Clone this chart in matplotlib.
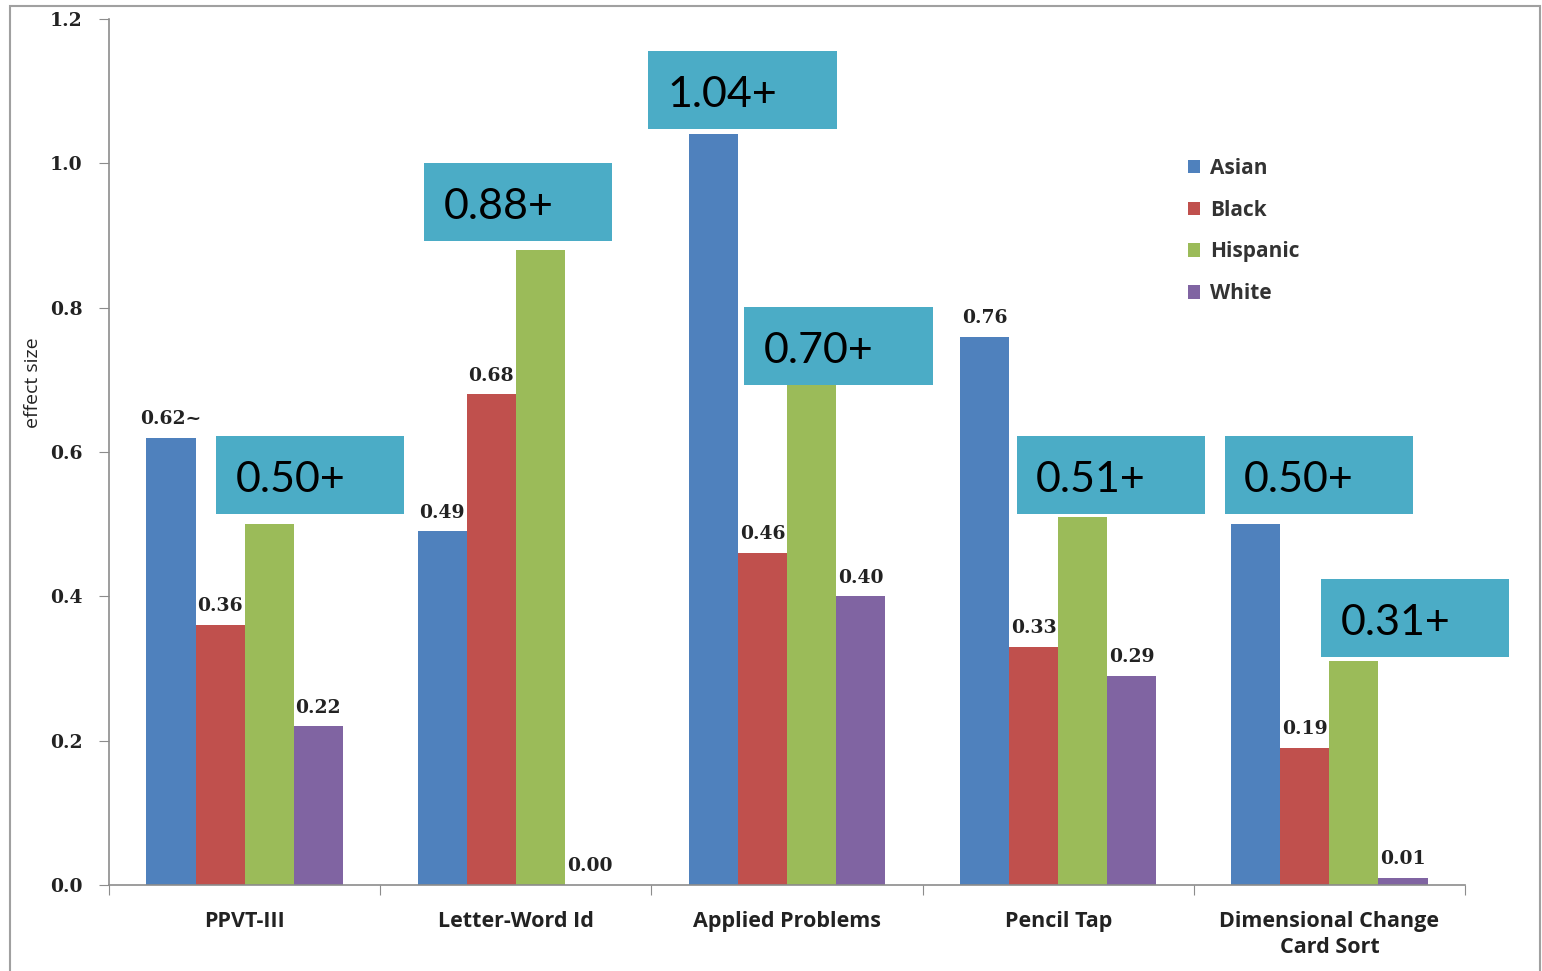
import numpy as np
import matplotlib
matplotlib.use('Agg')
import matplotlib.pyplot as plt
from matplotlib.patches import Rectangle

# data
categories = ['PPVT-III', 'Letter-Word Id', 'Applied Problems', 'Pencil Tap',
              'Dimensional Change\nCard Sort']
groups = ['Asian', 'Black', 'Hispanic', 'White']
asian = [0.62, 0.49, 1.04, 0.76, 0.50]
black = [0.36, 0.68, 0.46, 0.33, 0.19]
hispanic = [0.50, 0.88, 0.70, 0.51, 0.31]
white = [0.22, 0.00, 0.40, 0.29, 0.01]
# labels hidden behind the callout boxes are left empty
value_labels = [
    ['0.62~', '0.49', '', '0.76', ''],
    ['0.36', '0.68', '0.46', '0.33', '0.19'],
    ['', '', '', '', ''],
    ['0.22', '0.00', '0.40', '0.29', '0.01'],
]
callout_text = ['0.50+', '0.88+', '1.04+', '0.70+', '0.51+', '0.50+', '0.31+']
# callout box lower-left corners (category units, effect size)
callout_x = [-0.105, 0.662, 1.489, 1.843, 2.847, 3.614, 3.969]
callout_y = [0.514, 0.892, 1.047, 0.693, 0.514, 0.514, 0.316]

colors = ['#4F81BD', '#C0504D', '#9BBB59', '#8064A2']
box_color = '#4BACC6'
grey = '#8C8C8C'

fig = plt.figure(figsize=(15.42, 9.71), dpi=100)
ax = fig.add_axes([109 / 1542, 1 - 885 / 971, (1465 - 109) / 1542, (885 - 19) / 971])

x = np.arange(len(categories))
w = 0.181
series = [asian, black, hispanic, white]
for i, (name, vals) in enumerate(zip(groups, series)):
    pos = x + (i - 1.5) * w
    ax.bar(pos, vals, width=w, color=colors[i], label=name, zorder=2)
    for px, v, lab in zip(pos, vals, value_labels[i]):
        if not lab:
            continue
        ax.annotate(lab, (px, v), xytext=(0, 7), textcoords='offset points',
                    ha='center', va='bottom', fontsize=13.5, fontweight='bold',
                    family='DejaVu Serif', color='#222222', zorder=3)

# callout boxes
bw, bh = 0.694, 0.108
for t, bx, by in zip(callout_text, callout_x, callout_y):
    ax.add_patch(Rectangle((bx, by), bw, bh, facecolor=box_color, edgecolor='none',
                           zorder=5, clip_on=False))
    ax.annotate(t, (bx, by + bh / 2), xytext=(14, -3.5), textcoords='offset points',
                ha='left', va='center', fontsize=31, family='Lato', color='black',
                zorder=6, annotation_clip=False)

ax.set_xlim(-0.5, len(categories) - 0.5)
ax.set_ylim(0, 1.2)
ax.set_yticks(np.arange(0, 1.21, 0.2))
ax.set_yticklabels(['%.1f' % v for v in np.arange(0, 1.21, 0.2)],
                   fontsize=13.5, fontweight='bold', family='DejaVu Serif',
                   color='#222222')
ax.set_xticks(np.arange(-0.5, len(categories), 1.0))
ax.set_xticklabels([])
ax.set_xticks(x, minor=True)
ax.set_xticklabels(categories, minor=True, fontsize=15.5, fontweight='bold',
                   family='Open Sans', color='#222222', linespacing=1.3)
ax.tick_params(axis='x', which='minor', length=0, pad=19)
ax.tick_params(axis='x', which='major', length=7, color=grey, direction='out')
ax.tick_params(axis='y', length=7, color=grey, direction='out', pad=12)

for s in ['top', 'right']:
    ax.spines[s].set_visible(False)
for s in ['left', 'bottom']:
    ax.spines[s].set_color(grey)
    ax.spines[s].set_linewidth(1.2)

fig.text(33 / 1542, 1 - 383 / 971, 'effect size', rotation=90, ha='center',
         va='center', fontsize=14, family='Open Sans', color='#222222')

leg = ax.legend(loc='upper left', bbox_to_anchor=(1169 / 1542, 1 - 139 / 971),
                bbox_transform=fig.transFigure, frameon=False,
                prop={'family': 'Open Sans', 'size': 15, 'weight': 'bold'},
                handlelength=0.6, handleheight=0.6, handletextpad=0.45,
                labelspacing=1.0)
for t in leg.get_texts():
    t.set_color('#333333')

# outer chart border
fig.patches.append(Rectangle((10 / 1542, -0.02), 1530 / 1542, 1.02 - 6 / 971,
                             transform=fig.transFigure, fill=False,
                             edgecolor='#A0A0A0', linewidth=1.5))

fig.savefig('out.png', dpi=100)
